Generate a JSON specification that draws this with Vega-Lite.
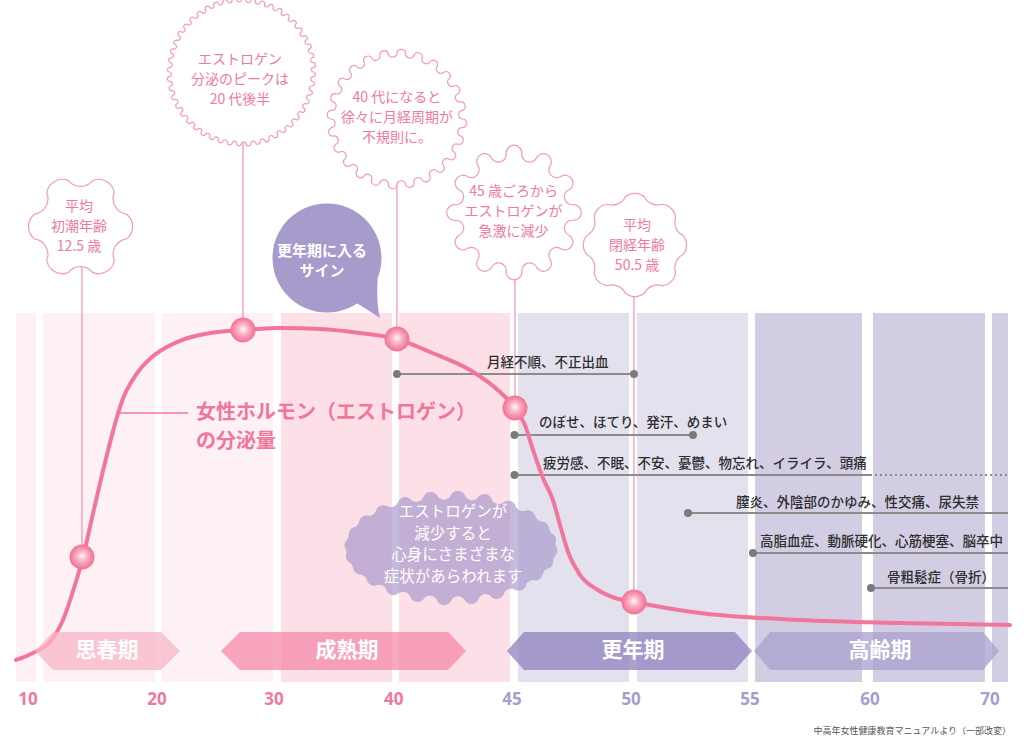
{
"$schema": "https://vega.github.io/schema/vega-lite/v6.json",
"width": 1024, "height": 736, "padding": 0, "autosize": {"type": "none"},
"background": "#ffffff",
"config": {"view": {"stroke": null}},
"datasets": {
"bands": [{"a":8.03,"b":9.71,"tone":"p1"},{"a":10.29,"b":19.71,"tone":"p1"},{"a":20.3,"b":29.66,"tone":"p1"},{"a":30.34,"b":39.7,"tone":"p2"},{"a":40.15,"b":44.81,"tone":"p2"},{"a":45.15,"b":49.83,"tone":"l1"},{"a":50.17,"b":54.85,"tone":"l1"},{"a":55.15,"b":59.66,"tone":"l2"},{"a":60.25,"b":69.7,"tone":"l2"},{"a":70.3,"b":71.65,"tone":"l2"}],
"curve": [{"x":8.03,"l":6.29},{"x":9.45,"l":8.29},{"x":10.88,"l":11.43},{"x":11.97,"l":17.71},{"x":12.98,"l":27.71},{"x":13.66,"l":35.71},{"x":14.41,"l":46.86},{"x":15.17,"l":58.0},{"x":15.92,"l":68.29},{"x":16.51,"l":75.71},{"x":17.1,"l":81.71},{"x":17.77,"l":86.0},{"x":18.53,"l":89.71},{"x":19.45,"l":92.86},{"x":20.55,"l":95.43},{"x":21.98,"l":97.71},{"x":23.92,"l":99.43},{"x":27.13,"l":100.57},{"x":30.25,"l":101.14},{"x":33.63,"l":100.86},{"x":37.0,"l":99.71},{"x":40.06,"l":98.0},{"x":41.45,"l":94.29},{"x":43.13,"l":89.14},{"x":44.39,"l":82.86},{"x":45.02,"l":78.29},{"x":45.44,"l":73.43},{"x":45.78,"l":66.29},{"x":46.2,"l":58.29},{"x":46.62,"l":52.0},{"x":46.92,"l":44.86},{"x":47.26,"l":37.14},{"x":47.77,"l":30.57},{"x":48.52,"l":26.29},{"x":49.24,"l":24.0},{"x":50.04,"l":22.86},{"x":52.83,"l":19.71},{"x":57.05,"l":17.71},{"x":62.53,"l":16.86},{"x":71.82,"l":16.29}],
"vlines": [{"x":13.57,"t":130,"b":35.71},{"x":27.13,"t":174.86,"b":100.57},{"x":40.06,"t":161,"b":98},{"x":45.02,"t":134.29,"b":78.29},{"x":50.04,"t":124.86,"b":22.86}],
"sym": [{"x1":40.06,"x2":50.04,"l":88.0,"k":"solid"},{"x1":45.0,"x2":52.53,"l":70.57,"k":"solid"},{"x1":45.0,"x2":60.0,"l":59.14,"k":"solid"},{"x1":60.0,"x2":71.65,"l":59.14,"k":"dot"},{"x1":52.32,"x2":71.65,"l":48.29,"k":"solid"},{"x1":55.06,"x2":71.65,"l":36.86,"k":"solid"},{"x1":60.08,"x2":71.65,"l":26.86,"k":"solid"}],
"symdots": [{"x":40.06,"l":88},{"x":50.04,"l":88},{"x":45,"l":70.57},{"x":52.53,"l":70.57},{"x":45,"l":59.14},{"x":52.32,"l":48.29},{"x":55.06,"l":36.86},{"x":60.08,"l":26.86}],
"symtext": [{"x":43.84,"l":91.14,"t":"月経不順、不正出血"},{"x":46.03,"l":74.0,"t":"のぼせ、ほてり、発汗、めまい"},{"x":46.2,"l":62.29,"t":"疲労感、不眠、不安、憂鬱、物忘れ、イライラ、頭痛"},{"x":54.35,"l":51.14,"t":"膣炎、外陰部のかゆみ、性交痛、尿失禁"},{"x":55.36,"l":40.0,"t":"高脂血症、動脈硬化、心筋梗塞、脳卒中"},{"x":61.43,"l":29.71,"t":"骨粗鬆症（骨折）"}],
"phases": [{"ph":"思春期","x":9.62,"hi":8.86,"lo":8.86},{"ph":"思春期","x":11.13,"hi":14.29,"lo":3.43},{"ph":"思春期","x":20.21,"hi":14.29,"lo":3.43},{"ph":"思春期","x":21.81,"hi":8.86,"lo":8.86},
{"ph":"成熟期","x":25.27,"hi":8.86,"lo":8.86},{"ph":"成熟期","x":26.88,"hi":14.29,"lo":3.43},{"ph":"成熟期","x":42.21,"hi":14.29,"lo":3.43},{"ph":"成熟期","x":42.96,"hi":8.86,"lo":8.86},
{"ph":"更年期","x":44.68,"hi":8.86,"lo":8.86},{"ph":"更年期","x":45.4,"hi":14.29,"lo":3.43},{"ph":"更年期","x":54.3,"hi":14.29,"lo":3.43},{"ph":"更年期","x":55.02,"hi":8.86,"lo":8.86},
{"ph":"高齢期","x":55.11,"hi":8.86,"lo":8.86},{"ph":"高齢期","x":55.78,"hi":14.29,"lo":3.43},{"ph":"高齢期","x":69.54,"hi":14.29,"lo":3.43},{"ph":"高齢期","x":70.89,"hi":8.86,"lo":8.86}],
"phaselabels": [{"x":15.67,"l":8.86,"t":"思春期"},{"x":35.91,"l":8.86,"t":"成熟期"},{"x":50.0,"l":8.86,"t":"更年期"},{"x":60.84,"l":8.86,"t":"高齢期"}],
"dots": [{"x":13.57,"l":35.71},{"x":27.13,"l":100.57},{"x":40.06,"l":98.0},{"x":45.02,"l":78.29},{"x":50.04,"l":22.86}],
"badges": [{"id":"b1","x":13.45,"l":130.14},{"id":"b2","x":27.0,"l":174.29},{"id":"b3","x":40.06,"l":160.86},{"id":"b4","x":44.98,"l":134.14},{"id":"b5","x":50.08,"l":124.86}],
"badgetext": [{"x":13.32,"l":130.0,"t":"平均\n初潮年齢\n12.5 歳"},{"x":26.88,"l":172.0,"t":"エストロゲン\n分泌のピークは\n20 代後半"},{"x":40.06,"l":161.14,"t":"40 代になると\n徐々に月経周期が\n不規則に。"},{"x":44.96,"l":134.29,"t":"45 歳ごろから\nエストロゲンが\n急激に減少"},{"x":50.17,"l":124.57,"t":"平均\n閉経年齢\n50.5 歳"}],
"curvelabel": [{"x":23.16,"l":76.86,"t":"女性ホルモン（エストロゲン）"},{"x":23.16,"l":68.57,"t":"の分泌量"}],
"leader": [{"x1":16.51,"x2":22.49,"l":76.86}],
"bubble": [{"x":34.22,"l":121.14,"tx":33.8,"tl":120.29,"t":"更年期に入る\nサイン"}],
"cloud": [{"x":42.33,"l":38.3,"tx":42.42,"tl":39.29,"t":"エストロゲンが\n減少すると\n心身にさまざまな\n症状があらわれます"}],
"ticks": [{"v":"10","p":9.03,"g":"a"},{"v":"20","p":19.87,"g":"a"},{"v":"30","p":29.75,"g":"a"},{"v":"40","p":39.85,"g":"a"},{"v":"45","p":44.89,"g":"b"},{"v":"50","p":49.92,"g":"b"},{"v":"55","p":54.94,"g":"b"},{"v":"60","p":60.0,"g":"b"},{"v":"70","p":70.13,"g":"b"}],
"source": [{"x":71.9,"l":-14.0,"t":"中高年女性健康教育マニュアルより（一部改変）"}]
},
"layer": [
{"data":{"name":"bands"},"mark":{"type":"rect"},
 "encoding":{
  "x":{"field":"a","type":"quantitative","axis":null,"scale":{"type":"linear","domain":[10,20,30,40,45,50,55,60,70],"range":[39.5,158.5,277,395.5,514.5,633,751.5,870,988.5],"nice":false,"zero":false}},
  "x2":{"field":"b"},
  "y":{"datum":105.43,"type":"quantitative","axis":null,"scale":{"type":"linear","domain":[-15.4286,194.8571],"nice":false,"zero":false}},
  "y2":{"datum":0},
  "color":{"field":"tone","type":"nominal","legend":null,"scale":{"domain":["p1","p2","l1","l2"],"range":["#fef1f5","#fde0e7","#e4e1ef","#d3cde4"]}}}},
{"data":{"name":"vlines"},"mark":{"type":"rule","color":"#f590ae","strokeWidth":1.2},
 "encoding":{"x":{"field":"x","type":"quantitative"},"y":{"field":"t","type":"quantitative"},"y2":{"field":"b"}}},
{"data":{"name":"sym"},"mark":{"type":"rule","color":"#8c8c8c","strokeWidth":2},
 "encoding":{"x":{"field":"x1","type":"quantitative"},"x2":{"field":"x2"},"y":{"field":"l","type":"quantitative"},
  "strokeDash":{"field":"k","type":"nominal","legend":null,"scale":{"domain":["solid","dot"],"range":[[1,0],[2,3]]}}}},
{"data":{"name":"symdots"},"mark":{"type":"point","shape":"circle","filled":true,"size":64,"color":"#7b7b7b","opacity":1},
 "encoding":{"x":{"field":"x","type":"quantitative"},"y":{"field":"l","type":"quantitative"}}},
{"data":{"name":"symtext"},"mark":{"type":"text","font":"Noto Sans CJK JP","fontSize":13.5,"fontWeight":500,"color":"#2e2e2e","align":"left","baseline":"middle"},
 "encoding":{"x":{"field":"x","type":"quantitative"},"y":{"field":"l","type":"quantitative"},"text":{"field":"t"}}},
{"data":{"name":"cloud"},"mark":{"type":"point","filled":true,"size":44944,"color":"#a495c8","opacity":0.65,"strokeWidth":0,
 "shape":"M1 0 A.072 .072 0 0 1 .991 .066 A.072 .072 0 0 0 .966 .13 A.072 .072 0 0 1 .924 .192 A.072 .072 0 0 0 .866 .25 A.072 .072 0 0 1 .793 .305 A.072 .072 0 0 0 .707 .354 A.072 .072 0 0 1 .609 .397 A.072 .072 0 0 0 .5 .433 A.072 .072 0 0 1 .383 .462 A.072 .072 0 0 0 .259 .483 A.072 .072 0 0 1 .131 .496 A.072 .072 0 0 0 0 .5 A.072 .072 0 0 1 -.131 .496 A.072 .072 0 0 0 -.259 .483 A.072 .072 0 0 1 -.383 .462 A.072 .072 0 0 0 -.5 .433 A.072 .072 0 0 1 -.609 .397 A.072 .072 0 0 0 -.707 .354 A.072 .072 0 0 1 -.793 .305 A.072 .072 0 0 0 -.866 .25 A.072 .072 0 0 1 -.924 .192 A.072 .072 0 0 0 -.966 .13 A.072 .072 0 0 1 -.991 .066 A.072 .072 0 0 0 -1 0 A.072 .072 0 0 1 -.991 -.066 A.072 .072 0 0 0 -.966 -.13 A.072 .072 0 0 1 -.924 -.192 A.072 .072 0 0 0 -.866 -.25 A.072 .072 0 0 1 -.793 -.305 A.072 .072 0 0 0 -.707 -.354 A.072 .072 0 0 1 -.609 -.397 A.072 .072 0 0 0 -.5 -.433 A.072 .072 0 0 1 -.383 -.462 A.072 .072 0 0 0 -.259 -.483 A.072 .072 0 0 1 -.131 -.496 A.072 .072 0 0 0 0 -.5 A.072 .072 0 0 1 .131 -.496 A.072 .072 0 0 0 .259 -.483 A.072 .072 0 0 1 .383 -.462 A.072 .072 0 0 0 .5 -.433 A.072 .072 0 0 1 .609 -.397 A.072 .072 0 0 0 .707 -.354 A.072 .072 0 0 1 .793 -.305 A.072 .072 0 0 0 .866 -.25 A.072 .072 0 0 1 .924 -.192 A.072 .072 0 0 0 .966 -.13 A.072 .072 0 0 1 .991 -.066 A.072 .072 0 0 0 1 0 Z"},
 "encoding":{"x":{"field":"x","type":"quantitative"},"y":{"field":"l","type":"quantitative"}}},
{"data":{"name":"cloud"},"mark":{"type":"text","font":"Noto Sans CJK JP","fontSize":15.5,"lineHeight":21.7,"lineBreak":"\n","color":"#ffffff","align":"center","baseline":"middle","dy":-32.5},
 "encoding":{"x":{"field":"tx","type":"quantitative"},"y":{"field":"tl","type":"quantitative"},"text":{"field":"t"}}},
{"data":{"name":"curve"},"mark":{"type":"line","color":"#f2769b","strokeWidth":4,"interpolate":"monotone","strokeCap":"round"},
 "encoding":{"x":{"field":"x","type":"quantitative"},"y":{"field":"l","type":"quantitative"}}},
{"data":{"name":"leader"},"mark":{"type":"rule","color":"#f2769b","strokeWidth":1.5},
 "encoding":{"x":{"field":"x1","type":"quantitative"},"x2":{"field":"x2"},"y":{"field":"l","type":"quantitative"}}},
{"data":{"name":"curvelabel"},"mark":{"type":"text","font":"Noto Sans CJK JP","fontSize":20,"fontWeight":"bold","color":"#f0769c","align":"left","baseline":"middle"},
 "encoding":{"x":{"field":"x","type":"quantitative"},"y":{"field":"l","type":"quantitative"},"text":{"field":"t"}}},
{"data":{"name":"phases"},"mark":{"type":"area","opacity":0.75},
 "encoding":{"x":{"field":"x","type":"quantitative"},"y":{"field":"hi","type":"quantitative"},"y2":{"field":"lo"},
  "color":{"field":"ph","type":"nominal","legend":null,"scale":{"domain":["思春期","成熟期","更年期","高齢期"],"range":["#f7b5c6","#f48aa8","#9080bf","#a99fce"]}}}},
{"data":{"name":"phaselabels"},"mark":{"type":"text","font":"Noto Sans CJK JP","fontSize":21,"fontWeight":"bold","color":"#ffffff","align":"center","baseline":"middle"},
 "encoding":{"x":{"field":"x","type":"quantitative"},"y":{"field":"l","type":"quantitative"},"text":{"field":"t"}}},
{"data":{"name":"dots"},"mark":{"type":"point","shape":"circle","filled":true,"size":625,"opacity":1,"strokeWidth":0,
 "fill":{"gradient":"radial","x1":0.5,"y1":0.45,"r1":0,"x2":0.5,"y2":0.5,"r2":0.5,"stops":[{"offset":0,"color":"#ffffff"},{"offset":0.3,"color":"#fcc3d2"},{"offset":0.75,"color":"#f58aa6"},{"offset":1,"color":"#f27196"}]}},
 "encoding":{"x":{"field":"x","type":"quantitative"},"y":{"field":"l","type":"quantitative"}}},
{"data":{"name":"badges"},"transform":[{"filter":"datum.id==='b1'"}],
 "mark":{"type":"point","filled":true,"fill":"#ffffff","stroke":"#f59ab5","strokeWidth":1.2,"opacity":1,"size":9101,
 "shape":"M0.966 -0.259 A0.33 0.33 0 0 1 0.966 0.259 A0.33 0.33 0 0 0 0.707 0.707 A0.33 0.33 0 0 1 0.259 0.966 A0.33 0.33 0 0 0 -0.259 0.966 A0.33 0.33 0 0 1 -0.707 0.707 A0.33 0.33 0 0 0 -0.966 0.259 A0.33 0.33 0 0 1 -0.966 -0.259 A0.33 0.33 0 0 0 -0.707 -0.707 A0.33 0.33 0 0 1 -0.259 -0.966 A0.33 0.33 0 0 0 0.259 -0.966 A0.33 0.33 0 0 1 0.707 -0.707 A0.33 0.33 0 0 0 0.966 -0.259 Z"},
 "encoding":{"x":{"field":"x","type":"quantitative"},"y":{"field":"l","type":"quantitative"}}},
{"data":{"name":"badges"},"transform":[{"filter":"datum.id==='b2'"}],
 "mark":{"type":"point","filled":true,"fill":"#ffffff","stroke":"#f59ab5","strokeWidth":1.2,"opacity":1,"size":20736,
 "shape":"M1 0 A.033 .033 0 0 1 .998 .065 A.033 .033 0 0 0 .991 .131 A.033 .033 0 0 1 .981 .195 A.033 .033 0 0 0 .966 .259 A.033 .033 0 0 1 .947 .321 A.033 .033 0 0 0 .924 .383 A.033 .033 0 0 1 .897 .442 A.033 .033 0 0 0 .866 .5 A.033 .033 0 0 1 .831 .556 A.033 .033 0 0 0 .793 .609 A.033 .033 0 0 1 .752 .659 A.033 .033 0 0 0 .707 .707 A.033 .033 0 0 1 .659 .752 A.033 .033 0 0 0 .609 .793 A.033 .033 0 0 1 .556 .831 A.033 .033 0 0 0 .5 .866 A.033 .033 0 0 1 .442 .897 A.033 .033 0 0 0 .383 .924 A.033 .033 0 0 1 .321 .947 A.033 .033 0 0 0 .259 .966 A.033 .033 0 0 1 .195 .981 A.033 .033 0 0 0 .131 .991 A.033 .033 0 0 1 .065 .998 A.033 .033 0 0 0 0 1 A.033 .033 0 0 1 -.065 .998 A.033 .033 0 0 0 -.131 .991 A.033 .033 0 0 1 -.195 .981 A.033 .033 0 0 0 -.259 .966 A.033 .033 0 0 1 -.321 .947 A.033 .033 0 0 0 -.383 .924 A.033 .033 0 0 1 -.442 .897 A.033 .033 0 0 0 -.5 .866 A.033 .033 0 0 1 -.556 .831 A.033 .033 0 0 0 -.609 .793 A.033 .033 0 0 1 -.659 .752 A.033 .033 0 0 0 -.707 .707 A.033 .033 0 0 1 -.752 .659 A.033 .033 0 0 0 -.793 .609 A.033 .033 0 0 1 -.831 .556 A.033 .033 0 0 0 -.866 .5 A.033 .033 0 0 1 -.897 .442 A.033 .033 0 0 0 -.924 .383 A.033 .033 0 0 1 -.947 .321 A.033 .033 0 0 0 -.966 .259 A.033 .033 0 0 1 -.981 .195 A.033 .033 0 0 0 -.991 .131 A.033 .033 0 0 1 -.998 .065 A.033 .033 0 0 0 -1 0 A.033 .033 0 0 1 -.998 -.065 A.033 .033 0 0 0 -.991 -.131 A.033 .033 0 0 1 -.981 -.195 A.033 .033 0 0 0 -.966 -.259 A.033 .033 0 0 1 -.947 -.321 A.033 .033 0 0 0 -.924 -.383 A.033 .033 0 0 1 -.897 -.442 A.033 .033 0 0 0 -.866 -.5 A.033 .033 0 0 1 -.831 -.556 A.033 .033 0 0 0 -.793 -.609 A.033 .033 0 0 1 -.752 -.659 A.033 .033 0 0 0 -.707 -.707 A.033 .033 0 0 1 -.659 -.752 A.033 .033 0 0 0 -.609 -.793 A.033 .033 0 0 1 -.556 -.831 A.033 .033 0 0 0 -.5 -.866 A.033 .033 0 0 1 -.442 -.897 A.033 .033 0 0 0 -.383 -.924 A.033 .033 0 0 1 -.321 -.947 A.033 .033 0 0 0 -.259 -.966 A.033 .033 0 0 1 -.195 -.981 A.033 .033 0 0 0 -.131 -.991 A.033 .033 0 0 1 -.065 -.998 A.033 .033 0 0 0 0 -1 A.033 .033 0 0 1 .065 -.998 A.033 .033 0 0 0 .131 -.991 A.033 .033 0 0 1 .195 -.981 A.033 .033 0 0 0 .259 -.966 A.033 .033 0 0 1 .321 -.947 A.033 .033 0 0 0 .383 -.924 A.033 .033 0 0 1 .442 -.897 A.033 .033 0 0 0 .5 -.866 A.033 .033 0 0 1 .556 -.831 A.033 .033 0 0 0 .609 -.793 A.033 .033 0 0 1 .659 -.752 A.033 .033 0 0 0 .707 -.707 A.033 .033 0 0 1 .752 -.659 A.033 .033 0 0 0 .793 -.609 A.033 .033 0 0 1 .831 -.556 A.033 .033 0 0 0 .866 -.5 A.033 .033 0 0 1 .897 -.442 A.033 .033 0 0 0 .924 -.383 A.033 .033 0 0 1 .947 -.321 A.033 .033 0 0 0 .966 -.259 A.033 .033 0 0 1 .981 -.195 A.033 .033 0 0 0 .991 -.131 A.033 .033 0 0 1 .998 -.065 A.033 .033 0 0 0 1 0 Z"},
 "encoding":{"x":{"field":"x","type":"quantitative"},"y":{"field":"l","type":"quantitative"}}},
{"data":{"name":"badges"},"transform":[{"filter":"datum.id==='b3'"}],
 "mark":{"type":"point","filled":true,"fill":"#ffffff","stroke":"#f59ab5","strokeWidth":1.2,"opacity":1,"size":17424,
 "shape":"M1 0 A.066 .066 0 0 1 .991 .131 A.066 .066 0 0 0 .966 .259 A.066 .066 0 0 1 .924 .383 A.066 .066 0 0 0 .866 .5 A.066 .066 0 0 1 .793 .609 A.066 .066 0 0 0 .707 .707 A.066 .066 0 0 1 .609 .793 A.066 .066 0 0 0 .5 .866 A.066 .066 0 0 1 .383 .924 A.066 .066 0 0 0 .259 .966 A.066 .066 0 0 1 .131 .991 A.066 .066 0 0 0 0 1 A.066 .066 0 0 1 -.131 .991 A.066 .066 0 0 0 -.259 .966 A.066 .066 0 0 1 -.383 .924 A.066 .066 0 0 0 -.5 .866 A.066 .066 0 0 1 -.609 .793 A.066 .066 0 0 0 -.707 .707 A.066 .066 0 0 1 -.793 .609 A.066 .066 0 0 0 -.866 .5 A.066 .066 0 0 1 -.924 .383 A.066 .066 0 0 0 -.966 .259 A.066 .066 0 0 1 -.991 .131 A.066 .066 0 0 0 -1 0 A.066 .066 0 0 1 -.991 -.131 A.066 .066 0 0 0 -.966 -.259 A.066 .066 0 0 1 -.924 -.383 A.066 .066 0 0 0 -.866 -.5 A.066 .066 0 0 1 -.793 -.609 A.066 .066 0 0 0 -.707 -.707 A.066 .066 0 0 1 -.609 -.793 A.066 .066 0 0 0 -.5 -.866 A.066 .066 0 0 1 -.383 -.924 A.066 .066 0 0 0 -.259 -.966 A.066 .066 0 0 1 -.131 -.991 A.066 .066 0 0 0 0 -1 A.066 .066 0 0 1 .131 -.991 A.066 .066 0 0 0 .259 -.966 A.066 .066 0 0 1 .383 -.924 A.066 .066 0 0 0 .5 -.866 A.066 .066 0 0 1 .609 -.793 A.066 .066 0 0 0 .707 -.707 A.066 .066 0 0 1 .793 -.609 A.066 .066 0 0 0 .866 -.5 A.066 .066 0 0 1 .924 -.383 A.066 .066 0 0 0 .966 -.259 A.066 .066 0 0 1 .991 -.131 A.066 .066 0 0 0 1 0 Z"},
 "encoding":{"x":{"field":"x","type":"quantitative"},"y":{"field":"l","type":"quantitative"}}},
{"data":{"name":"badges"},"transform":[{"filter":"datum.id==='b4'"}],
 "mark":{"type":"point","filled":true,"fill":"#ffffff","stroke":"#f59ab5","strokeWidth":1.2,"opacity":1,"size":14400,
 "shape":"M.991 -.131 A.131 .131 0 0 1 .991 .131 A.131 .131 0 0 0 .924 .383 A.131 .131 0 0 1 .793 .609 A.131 .131 0 0 0 .609 .793 A.131 .131 0 0 1 .383 .924 A.131 .131 0 0 0 .131 .991 A.131 .131 0 0 1 -.131 .991 A.131 .131 0 0 0 -.383 .924 A.131 .131 0 0 1 -.609 .793 A.131 .131 0 0 0 -.793 .609 A.131 .131 0 0 1 -.924 .383 A.131 .131 0 0 0 -.991 .131 A.131 .131 0 0 1 -.991 -.131 A.131 .131 0 0 0 -.924 -.383 A.131 .131 0 0 1 -.793 -.609 A.131 .131 0 0 0 -.609 -.793 A.131 .131 0 0 1 -.383 -.924 A.131 .131 0 0 0 -.131 -.991 A.131 .131 0 0 1 .131 -.991 A.131 .131 0 0 0 .383 -.924 A.131 .131 0 0 1 .609 -.793 A.131 .131 0 0 0 .793 -.609 A.131 .131 0 0 1 .924 -.383 A.131 .131 0 0 0 .991 -.131 Z"},
 "encoding":{"x":{"field":"x","type":"quantitative"},"y":{"field":"l","type":"quantitative"}}},
{"data":{"name":"badges"},"transform":[{"filter":"datum.id==='b5'"}],
 "mark":{"type":"point","filled":true,"fill":"#ffffff","stroke":"#f59ab5","strokeWidth":1.2,"opacity":1,"size":9604,
 "shape":"M0.981 -0.195 A0.3 0.3 0 0 1 0.981 0.195 A0.3 0.3 0 0 0 0.831 0.556 A0.3 0.3 0 0 1 0.556 0.831 A0.3 0.3 0 0 0 0.195 0.981 A0.3 0.3 0 0 1 -0.195 0.981 A0.3 0.3 0 0 0 -0.556 0.831 A0.3 0.3 0 0 1 -0.831 0.556 A0.3 0.3 0 0 0 -0.981 0.195 A0.3 0.3 0 0 1 -0.981 -0.195 A0.3 0.3 0 0 0 -0.831 -0.556 A0.3 0.3 0 0 1 -0.556 -0.831 A0.3 0.3 0 0 0 -0.195 -0.981 A0.3 0.3 0 0 1 0.195 -0.981 A0.3 0.3 0 0 0 0.556 -0.831 A0.3 0.3 0 0 1 0.831 -0.556 A0.3 0.3 0 0 0 0.981 -0.195 Z"},
 "encoding":{"x":{"field":"x","type":"quantitative"},"y":{"field":"l","type":"quantitative"}}},
{"data":{"name":"badgetext"},"mark":{"type":"text","font":"Noto Sans CJK JP","fontSize":14,"lineHeight":20,"lineBreak":"\n","color":"#f07a9f","align":"center","baseline":"middle","dy":-20},
 "encoding":{"x":{"field":"x","type":"quantitative"},"y":{"field":"l","type":"quantitative"},"text":{"field":"t"}}},
{"data":{"name":"bubble"},"mark":{"type":"point","filled":true,"color":"#a69bca","opacity":1,"strokeWidth":0,"size":11881,
 "shape":"M1 0 A1 1 0 1 1 -1 0 A1 1 0 1 1 1 0 Z M.55 .83 L.93 .37 Q.9 .8 .97 1.1 Q.75 .95 .55 .83 Z"},
 "encoding":{"x":{"field":"x","type":"quantitative"},"y":{"field":"l","type":"quantitative"}}},
{"data":{"name":"bubble"},"mark":{"type":"text","font":"Noto Sans CJK JP","fontSize":15,"fontWeight":"bold","lineHeight":20,"lineBreak":"\n","color":"#ffffff","align":"center","baseline":"middle","dy":-10},
 "encoding":{"x":{"field":"tx","type":"quantitative"},"y":{"field":"tl","type":"quantitative"},"text":{"field":"t"}}},
{"data":{"name":"ticks"},"mark":{"type":"text","font":"Noto Sans","fontSize":17,"fontWeight":"bold","align":"center","baseline":"middle"},
 "encoding":{"x":{"field":"p","type":"quantitative"},"y":{"datum":-5.14,"type":"quantitative"},"text":{"field":"v"},
  "color":{"field":"g","type":"nominal","legend":null,"scale":{"domain":["a","b"],"range":["#f0789c","#a89ccc"]}}}},
{"data":{"name":"source"},"mark":{"type":"text","font":"Noto Sans CJK JP","fontSize":9,"color":"#555555","align":"right","baseline":"middle"},
 "encoding":{"x":{"field":"x","type":"quantitative"},"y":{"field":"l","type":"quantitative"},"text":{"field":"t"}}}
],
"resolve":{"scale":{"color":"independent"}}
}
